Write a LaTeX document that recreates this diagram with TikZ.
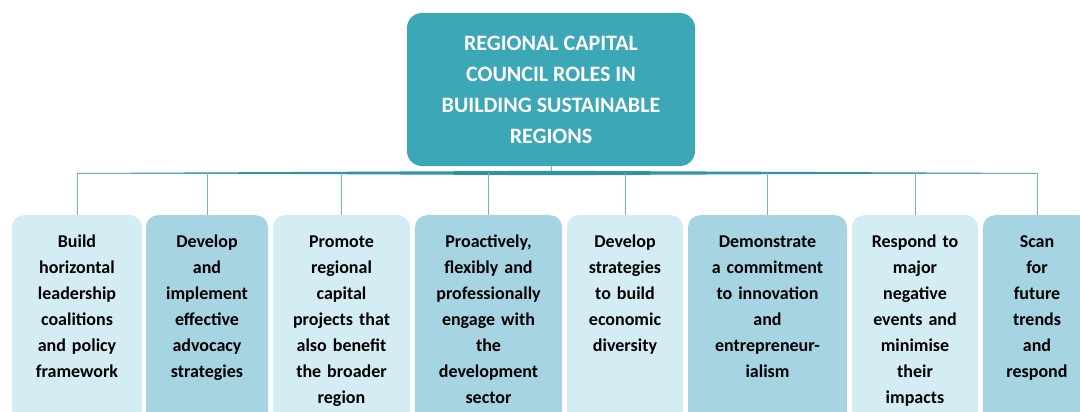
\documentclass[tikz,border=0pt]{standalone}
\usepackage{fontspec}
\setmainfont{Carlito}
\definecolor{tealmain}{RGB}{59,167,183}
\definecolor{tealline}{RGB}{48,148,166}
\definecolor{tealdrop}{RGB}{112,184,198}
\definecolor{rolelight}{RGB}{212,236,244}
\definecolor{roledark}{RGB}{166,212,226}
\tikzset{
  toprole/.style={fill=tealmain, rounded corners=15pt, text=white, align=center,
    minimum width=288pt, minimum height=153pt, font=\bfseries\fontsize{22}{31}\selectfont},
  rolebox/.style={rounded corners=12pt, anchor=north, align=center, text=black,
    font=\bfseries\fontsize{18}{26}\selectfont, inner xsep=2pt, inner ysep=4pt,
    text height=28pt, text depth=185pt},
  lightrole/.style={rolebox, fill=rolelight},
  darkrole/.style={rolebox, fill=roledark},
  drop/.style={draw=tealdrop, line width=1pt}
}
\begin{document}
\begin{tikzpicture}[x=1pt,y=1pt,yscale=-1,xscale=1]
    \useasboundingbox (0,0) rectangle (1080,412);
    \clip (0,0) rectangle (1080,412);
    \fill[white] (0,0) rectangle (1080,412);

    %Rounded Rect: title
    \node[toprole] (top) at (551,89.5) {REGIONAL CAPITAL\\COUNCIL ROLES IN\\BUILDING SUSTAINABLE\\REGIONS};
    \coordinate (bus) at (551,173);

    %Rounded Rect: roles
    \node[lightrole, text width=126pt] (r1) at (77,215) {Build\\horizontal\\leadership\\coalitions\\and policy\\framework};
    \node[darkrole, text width=118pt] (r2) at (207,215) {Develop\\and\\implement\\effective\\advocacy\\strategies};
    \node[lightrole, text width=133pt] (r3) at (341.5,215) {Promote\\regional\\capital\\projects that\\also benefit\\the broader\\region};
    \node[darkrole, text width=143pt] (r4) at (488.5,215) {Proactively,\\flexibly and\\professionally\\engage with\\the\\development\\sector};
    \node[lightrole, text width=112pt] (r5) at (625,215) {Develop\\strategies\\to build\\economic\\diversity};
    \node[darkrole, text width=155pt] (r6) at (767.5,215) {Demonstrate\\a commitment\\to innovation\\and\\entrepreneur-\\ialism};
    \node[lightrole, text width=122pt] (r7) at (915,215) {Respond to\\major\\negative\\events and\\minimise\\their\\impacts};
    \node[darkrole, text width=104pt] (r8) at (1037,215) {Scan\\for\\future\\trends\\and\\respond};

    %Straight Lines: bus
    \draw[drop] (top.south) -- (bus);
    \draw[drop] (r1.north |- bus) -- (r8.north |- bus);
    \fill[tealline] (r1.north |- bus) -- ([yshift=-2.2pt]bus) -- (r8.north |- bus) -- ([yshift=2.2pt]bus) -- cycle;

    %Straight Lines: drops
    \foreach \r in {r1,r2,r3,r4,r5,r6,r7,r8}
      \draw[drop] (\r.north |- bus) -- (\r.north);
\end{tikzpicture}
\end{document}
